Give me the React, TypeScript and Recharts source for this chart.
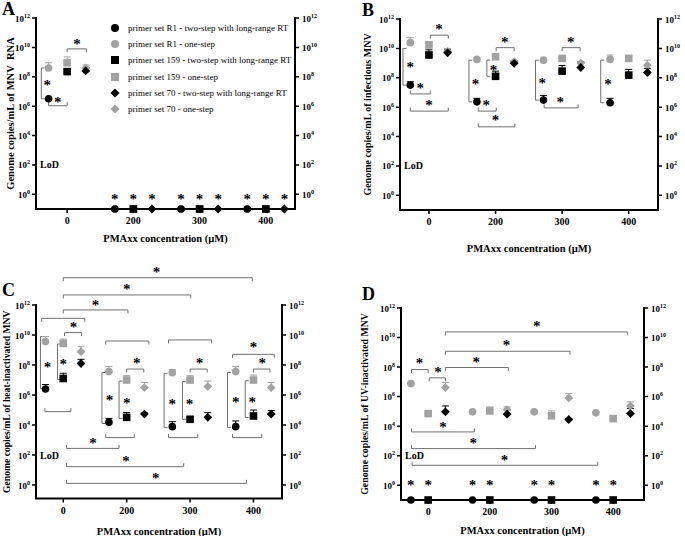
import React from "react";
import {
  ScatterChart,
  Scatter,
  XAxis,
  YAxis,
  ErrorBar,
  ReferenceLine,
  ReferenceDot,
} from "recharts";

const FONT = '"Liberation Serif", "Times New Roman", serif';
const GREY = "#a2a2a2";
const BRACKET = "#707070";

// x categories (PMAxx concentration, µM) and log10 y ticks
const doses = ["0", "200", "300", "400"];
const xTicks = [0, 1, 2, 3];
const yTicks = [0, 2, 4, 6, 8, 10, 12];

// [log10 mean, log10 top of error bar]; null = not detected (drawn on the axis)
type Pt = [number, number] | null;

// A - MNV RNA
const aR1Two: Pt[] = [[6.5, 6.6], null, null, null];
const aR1One: Pt[] = [[8.6, 8.95], null, null, null];
const a159Two: Pt[] = [[8.35, 8.5], null, null, null];
const a159One: Pt[] = [[8.95, 9.35], null, null, null];
const a70Two: Pt[] = [[8.4, 8.6], null, null, null];
const a70One: Pt[] = [[8.6, 8.8], null, null, null];

// B - infectious MNV
const bR1Two: Pt[] = [[7.5, 7.73], [6.36, 6.6], [6.48, 6.8], [6.3, 6.6]];
const bR1One: Pt[] = [[10.39, 10.73], [9.25, 9.35], [9.2, 9.3], [9.25, 9.55]];
const b159Two: Pt[] = [[9.55, 9.9], [8.1, 8.45], [8.45, 8.84], [8.18, 8.57]];
const b159One: Pt[] = [[10.23, 10.45], [9.43, 9.5], [9.32, 9.4], [9.32, 9.4]];
const b70Two: Pt[] = [[9.7, 9.95], [8.98, 9.14], [8.7, 9.07], [8.36, 8.64]];
const b70One: Pt[] = [[9.8, 9.9], [9.1, 9.15], [9.0, 9.1], [8.86, 9.2]];

// C - heat-inactivated MNV
const cR1Two: Pt[] = [[6.4, 6.7], [4.18, 4.44], [3.89, 4.22], [3.89, 4.27]];
const cR1One: Pt[] = [[9.56, 9.9], [7.56, 7.9], [7.49, 7.7], [7.56, 7.9]];
const c159Two: Pt[] = [[7.1, 7.45], [4.51, 4.84], [4.38, 4.5], [4.6, 5.0]];
const c159One: Pt[] = [[9.44, 9.73], [7.0, 7.29], [7.0, 7.29], [7.0, 7.33]];
const c70Two: Pt[] = [[8.1, 8.38], [4.73, 4.8], [4.51, 4.82], [4.73, 4.96]];
const c70One: Pt[] = [[8.89, 9.22], [6.49, 6.84], [6.56, 6.93], [6.49, 6.84]];

// D - UV-inactivated MNV
const dR1Two: Pt[] = [null, null, null, null];
const dR1One: Pt[] = [[6.88, 6.95], [4.97, 5.05], [4.97, 5.05], [4.9, 4.98]];
const d159Two: Pt[] = [null, null, null, null];
const d159One: Pt[] = [[4.85, 4.9], [5.03, 5.3], [4.7, 5.03], [4.51, 4.6]];
const d70Two: Pt[] = [[4.97, 5.37], [4.81, 5.1], [4.45, 4.5], [4.85, 5.19]];
const d70One: Pt[] = [[6.61, 6.95], [5.12, 5.3], [5.91, 6.2], [5.37, 5.64]];

// significance brackets: horizontal [x1, x2, y, tick dir], vertical [x, y1, y2], stars [x, y]
type HBr = [number, number, number, "up" | "down"];
type VBr = [number, number, number];
type Star = [number, number];

const aH: HBr[] = [[-0.28, 0, 6.03, "up"], [0, 0.29, 9.9, "down"]];
const aV: VBr[] = [[-0.39, 6.5, 8.6]];
const aStars: Star[] = [
  [-0.3, 7.6], [-0.14, 6.44], [0.15, 10.4],
  [0.72, -0.2], [1, -0.2], [1.28, -0.2],
  [1.72, -0.2], [2, -0.2], [2.28, -0.2],
  [2.72, -0.2], [3, -0.2], [3.28, -0.2],
];

const bH: HBr[] = [
  [-0.28, 0.02, 6.9, "up"], [-0.28, 0.29, 5.73, "up"], [0.02, 0.29, 10.9, "down"],
  [0.74, 1.01, 5.73, "up"], [0.74, 1.29, 4.66, "up"], [1.01, 1.28, 10.05, "down"],
  [1.73, 2.24, 5.95, "up"], [2.0, 2.27, 10.05, "down"],
];
const bV: VBr[] = [
  [-0.39, 7.5, 10.0], [0.6, 6.36, 9.2], [0.87, 8.1, 9.2], [1.6, 6.48, 9.2], [2.58, 6.3, 9.2],
];
const bStars: Star[] = [
  [-0.28, 8.86], [-0.13, 7.43], [0, 6.3], [0.15, 11.48],
  [0.7, 7.73], [0.97, 8.68], [0.86, 6.3], [1.0, 5.23], [1.14, 10.6],
  [1.7, 7.77], [1.97, 6.48], [2.13, 10.6], [2.69, 7.73],
];

const cH: HBr[] = [
  [0, 2.98, 13.82, "down"], [0, 2.01, 12.67, "down"], [0, 1.02, 11.67, "down"],
  [-0.34, 0.34, 11.11, "down"], [0.02, 0.29, 10.16, "down"], [-0.29, 0.12, 4.89, "up"],
  [0.67, 1.35, 9.6, "down"], [1.0, 1.27, 7.73, "down"], [0.67, 1.12, 3.16, "up"],
  [1.66, 2.34, 9.67, "down"], [2.0, 2.27, 7.73, "down"], [1.66, 2.12, 3.16, "up"],
  [2.67, 3.33, 8.71, "down"], [3.0, 3.26, 7.73, "down"], [2.67, 3.13, 3.16, "up"],
  [0.05, 0.88, 2.44, "up"], [0.05, 1.9, 1.22, "up"], [0.05, 2.89, 0.11, "up"],
];
const cV: VBr[] = [
  [-0.36, 6.44, 9.9], [-0.09, 7.04, 9.4],
  [0.61, 4.1, 7.5], [0.88, 4.44, 6.93],
  [1.59, 3.84, 7.44], [1.88, 4.38, 6.89],
  [2.59, 3.84, 7.5], [2.87, 4.5, 6.95],
];
const cStars: Star[] = [
  [1.47, 14.33], [1.0, 13.22], [0.51, 12.16], [0.16, 10.67], [-0.25, 8.0], [0, 8.22],
  [1.16, 8.27], [0.73, 5.78], [1.0, 5.6],
  [2.15, 8.27], [1.72, 5.56], [1.99, 5.56],
  [3.0, 9.33], [3.14, 8.27], [2.72, 5.67], [2.98, 5.67],
  [0.47, 2.93], [0.99, 1.73], [1.46, 0.6],
];

const dH: HBr[] = [
  [0.28, 3.23, 10.38, "down"], [0.28, 2.3, 9.07, "down"], [0.28, 1.3, 7.97, "down"],
  [-0.27, 0, 7.83, "down"], [0.02, 0.28, 7.27, "down"],
  [-0.27, 0.75, 3.61, "up"], [-0.27, 1.74, 2.48, "up"], [-0.26, 2.75, 1.35, "up"],
];
const dV: VBr[] = [];
const dStars: Star[] = [
  [1.76, 10.95], [1.27, 9.66], [0.78, 8.51], [-0.14, 8.4], [0.16, 7.79],
  [0.24, 4.1], [0.73, 3.0], [1.24, 1.85],
  [-0.28, 0.12], [0, 0.12], [0.72, 0.12], [1, 0.12],
  [1.72, 0.12], [2, 0.12], [2.72, 0.12], [3, 0.12],
];

type Kind = "circle" | "square" | "diamond";
const seriesMeta: { name: string; kind: Kind; color: string; offset: number }[] = [
  { name: "primer set R1 - two-step with long-range RT", kind: "circle", color: "#000", offset: -0.28 },
  { name: "primer set R1 - one-step", kind: "circle", color: GREY, offset: -0.28 },
  { name: "primer set 159 - two-step with long-range RT", kind: "square", color: "#000", offset: 0 },
  { name: "primer set 159 - one-step", kind: "square", color: GREY, offset: 0 },
  { name: "primer set 70 - two-step with long-range RT", kind: "diamond", color: "#000", offset: 0.28 },
  { name: "primer set 70 - one-step", kind: "diamond", color: GREY, offset: 0.28 },
];
// grey (one-step) series first so the black ones sit on top
const drawOrder = [1, 3, 5, 0, 2, 4];

function Marker({ kind, cx, cy, fill, s = 3.8 }: { kind: Kind; cx: number; cy: number; fill: string; s?: number }) {
  if (kind === "circle") return <circle cx={cx} cy={cy} r={s} fill={fill} />;
  if (kind === "square") return <rect x={cx - s} y={cy - s} width={2 * s} height={2 * s} fill={fill} />;
  const d = s + 0.6;
  return <polygon points={`${cx},${cy - d} ${cx + d},${cy} ${cx},${cy + d} ${cx - d},${cy}`} fill={fill} />;
}

function toPoints(vals: Pt[], offset: number, floor: number) {
  return vals.map((v, g) =>
    v ? { x: g + offset, y: v[0], err: [0, v[1] - v[0]] } : { x: g + offset, y: floor, err: [0, 0] }
  );
}

function PowTick(props: any) {
  const { x, y, payload, textAnchor } = props;
  return (
    <text x={x} y={y} dy={3.5} textAnchor={textAnchor} fontFamily={FONT} fontWeight="bold" fontSize={9} fill="#000">
      10
      <tspan dy={-4} fontSize={6}>
        {payload.value}
      </tspan>
    </text>
  );
}

const hShape = (dir: "up" | "down") => (p: any) => {
  const t = dir === "up" ? -3.5 : 3.5;
  return (
    <path d={`M${p.x1},${p.y1 + t}V${p.y1}H${p.x2}V${p.y2 + t}`} fill="none" stroke={BRACKET} strokeWidth={1} />
  );
};
const vShape = (p: any) => (
  <path d={`M${p.x1 + 3.5},${p.y1}H${p.x1}V${p.y2}H${p.x2 + 3.5}`} fill="none" stroke={BRACKET} strokeWidth={1} />
);
const starShape = (p: any) => (
  <text x={p.cx} y={p.cy + 7} textAnchor="middle" fontFamily={FONT} fontWeight="bold" fontSize={15} fill="#000">
    *
  </text>
);
const lodShape = (p: any) => (
  <text x={p.cx + 4} y={p.cy + 3.5} fontFamily={FONT} fontWeight="bold" fontSize={10} fill="#000">
    LoD
  </text>
);

interface PanelSpec {
  letter: string;
  left: number;
  top: number;
  width: number;
  height: number;
  mTop: number;
  yW: number;
  yWR: number;
  xH: number;
  xDomain: [number, number];
  yMin: number;
  yTitle: string;
  yTitleSize: number;
  yTitleX: number;
  xTitleDy: number;
  letterPos: [number, number];
  series: Pt[][];
  hBr: HBr[];
  vBr: VBr[];
  stars: Star[];
}

const panels: PanelSpec[] = [
  {
    letter: "A", left: 0, top: 0, width: 340, height: 265, mTop: 18, yW: 36, yWR: 45, xH: 56,
    xDomain: [-0.47, 3.44], yMin: -1, yTitle: "Genome copies/mL of MNV\u00a0 RNA", yTitleSize: 10.5,
    yTitleX: 10, xTitleDy: 33, letterPos: [2, 15],
    series: [aR1Two, aR1One, a159Two, a159One, a70Two, a70One], hBr: aH, vBr: aV, stars: aStars,
  },
  {
    letter: "B", left: 340, top: 0, width: 345, height: 265, mTop: 19, yW: 60, yWR: 27, xH: 55,
    xDomain: [-0.435, 3.44], yMin: -1, yTitle: "Genome copies/mL of infectious MNV", yTitleSize: 10,
    yTitleX: 27, xTitleDy: 42, letterPos: [22, 16],
    series: [bR1Two, bR1One, b159Two, b159One, b70Two, b70One], hBr: bH, vBr: bV, stars: bStars,
  },
  {
    letter: "C", left: 0, top: 265, width: 340, height: 271, mTop: 40, yW: 36, yWR: 58, xH: 37.5,
    xDomain: [-0.43, 3.45], yMin: -0.9, yTitle: "Genome copies/mL of heat-inactivated MNV", yTitleSize: 9.6,
    yTitleX: 7, xTitleDy: 36, letterPos: [2, 31],
    series: [cR1Two, cR1One, c159Two, c159One, c70Two, c70One], hBr: cH, vBr: cV, stars: cStars,
  },
  {
    letter: "D", left: 340, top: 265, width: 345, height: 271, mTop: 43, yW: 61, yWR: 41, xH: 36,
    xDomain: [-0.44, 3.5], yMin: -1, yTitle: "Genome copies/mL of UV-inactivated MNV", yTitleSize: 9.8,
    yTitleX: 25, xTitleDy: 34, letterPos: [22, 35],
    series: [dR1Two, dR1One, d159Two, d159One, d70Two, d70One], hBr: dH, vBr: dV, stars: dStars,
  },
];

// axis frame (left, bottom, right) with outward tick marks, laid over the chart
function Frame({ spec }: { spec: PanelSpec }) {
  const L = spec.yW;
  const R = spec.width - spec.yWR;
  const T = spec.mTop;
  const B = spec.height - spec.xH;
  const [x0, x1] = spec.xDomain;
  const sy = (v: number) => T + ((12 - v) / (12 - spec.yMin)) * (B - T);
  const sx = (v: number) => L + ((v - x0) / (x1 - x0)) * (R - L);
  const ticks =
    yTicks.map((t) => `M${L - 4},${sy(t)}H${L}M${R},${sy(t)}H${R + 4}`).join("") +
    xTicks.map((g) => `M${sx(g)},${B}V${B + 4}`).join("");
  return (
    <svg
      width={spec.width}
      height={spec.height}
      style={{ position: "absolute", left: 0, top: 0, pointerEvents: "none" }}
    >
      <path d={`M${L},${T}V${B}H${R}V${T}`} fill="none" stroke="#000" strokeWidth={2} strokeLinecap="square" />
      <path d={ticks} fill="none" stroke="#000" strokeWidth={1.5} />
    </svg>
  );
}

function Panel({ spec }: { spec: PanelSpec }) {
  const { yMin, xDomain } = spec;
  const [x0] = xDomain;
  return (
    <div style={{ position: "absolute", left: spec.left, top: spec.top, width: spec.width, height: spec.height }}>
      <ScatterChart
        width={spec.width}
        height={spec.height}
        margin={{ top: spec.mTop, right: 0, bottom: 0, left: 0 }}
      >
        <XAxis
          type="number"
          dataKey="x"
          domain={xDomain}
          ticks={xTicks}
          tickFormatter={(v: number) => doses[v]}
          height={spec.xH}
          axisLine={false}
          tickLine={false}
          tickSize={4}
          tickMargin={4}
          tick={{ fontFamily: FONT, fontWeight: "bold", fontSize: 10, fill: "#000" }}
          label={{
            content: (p: any) => (
              <text
                x={p.viewBox.x + p.viewBox.width / 2}
                y={p.viewBox.y + spec.xTitleDy}
                textAnchor="middle"
                fontFamily={FONT}
                fontWeight="bold"
                fontSize={10.5}
                fill="#000"
              >
                PMAxx concentration (µM)
              </text>
            ),
          }}
        />
        <YAxis
          type="number"
          dataKey="y"
          domain={[yMin, 12]}
          ticks={yTicks}
          width={spec.yW}
          axisLine={false}
          tickLine={false}
          tickSize={4}
          tickMargin={2}
          tick={<PowTick />}
          label={{
            content: (p: any) => (
              <text
                transform={`translate(${p.viewBox.x + spec.yTitleX},${p.viewBox.y + p.viewBox.height / 2}) rotate(-90)`}
                dy="0.35em"
                textAnchor="middle"
                fontFamily={FONT}
                fontWeight="bold"
                fontSize={spec.yTitleSize}
                fill="#000"
                style={{ whiteSpace: "pre" }}
              >
                {spec.yTitle}
              </text>
            ),
          }}
        />
        <YAxis
          yAxisId="r"
          orientation="right"
          type="number"
          domain={[yMin, 12]}
          allowDataOverflow
          ticks={yTicks}
          width={spec.yWR}
          axisLine={false}
          tickLine={false}
          tickSize={4}
          tickMargin={3}
          tick={<PowTick />}
        />
        {spec.hBr.map((b, i) => (
          <ReferenceLine
            key={`h${i}`}
            segment={[{ x: b[0], y: b[2] }, { x: b[1], y: b[2] }]}
            ifOverflow="visible"
            shape={hShape(b[3])}
          />
        ))}
        {spec.vBr.map((b, i) => (
          <ReferenceLine
            key={`v${i}`}
            segment={[{ x: b[0], y: b[1] }, { x: b[0], y: b[2] }]}
            ifOverflow="visible"
            shape={vShape}
          />
        ))}
        {drawOrder.map((si) => {
          const m = seriesMeta[si];
          return (
            <Scatter
              key={m.name}
              name={m.name}
              data={toPoints(spec.series[si], m.offset, yMin)}
              isAnimationActive={false}
              shape={(p: any) => <Marker kind={m.kind} cx={p.cx} cy={p.cy} fill={m.color} />}
            >
              <ErrorBar dataKey="err" direction="y" width={3.5} stroke={m.color} strokeWidth={1} />
            </Scatter>
          );
        })}
        {spec.stars.map((s, i) => (
          <ReferenceDot key={`s${i}`} x={s[0]} y={s[1]} ifOverflow="visible" shape={starShape} />
        ))}
        <ReferenceDot x={x0} y={2} ifOverflow="visible" shape={lodShape} />
        {/* ties the right axis to the same scale so it gets drawn */}
        <ReferenceDot yAxisId="r" x={x0} y={12} ifOverflow="visible" shape={() => <g />} />
      </ScatterChart>
      <Frame spec={spec} />
      <div
        style={{
          position: "absolute",
          left: spec.letterPos[0],
          top: spec.letterPos[1] - 15,
          fontFamily: FONT,
          fontWeight: "bold",
          fontSize: 18,
          lineHeight: "18px",
        }}
      >
        {spec.letter}
      </div>
    </div>
  );
}

function LegendBox() {
  return (
    <div style={{ position: "absolute", left: 108, top: 20, fontFamily: FONT, fontSize: 9 }}>
      {seriesMeta.map((m) => (
        <div key={m.name} style={{ display: "flex", alignItems: "center", height: 16.2 }}>
          <svg width={14} height={12}>
            <Marker kind={m.kind} cx={7} cy={6} fill={m.color} s={4} />
          </svg>
          <span style={{ marginLeft: 6, whiteSpace: "nowrap" }}>{m.name}</span>
        </div>
      ))}
    </div>
  );
}

export default function App() {
  return (
    <div style={{ position: "absolute", left: 0, top: 0, width: 685, height: 536, background: "#fff" }}>
      {panels.map((p) => (
        <Panel key={p.letter} spec={p} />
      ))}
      <LegendBox />
    </div>
  );
}
